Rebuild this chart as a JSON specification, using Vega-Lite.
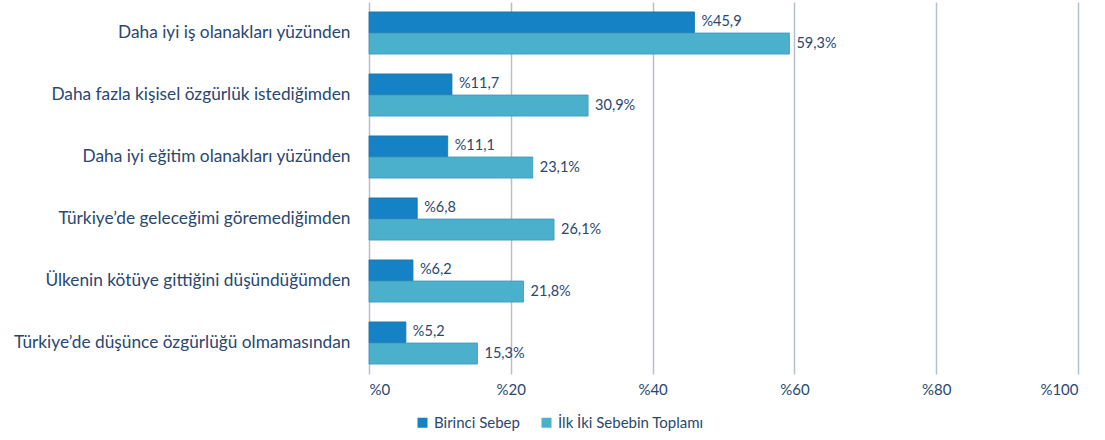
{
  "$schema": "https://vega.github.io/schema/vega-lite/v6.json",
  "width": 709,
  "height": 372,
  "autosize": {"type": "none"},
  "padding": {"left": 369, "top": 2, "right": 27, "bottom": 66},
  "background": "white",
  "data": {
    "values": [
      {"reason": "Daha iyi iş olanakları yüzünden", "series": "Birinci Sebep", "value": 45.9, "label": "%45,9"},
      {"reason": "Daha iyi iş olanakları yüzünden", "series": "İlk İki Sebebin Toplamı", "value": 59.3, "label": "59,3%"},
      {"reason": "Daha fazla kişisel özgürlük istediğimden", "series": "Birinci Sebep", "value": 11.7, "label": "%11,7"},
      {"reason": "Daha fazla kişisel özgürlük istediğimden", "series": "İlk İki Sebebin Toplamı", "value": 30.9, "label": "30,9%"},
      {"reason": "Daha iyi eğitim olanakları yüzünden", "series": "Birinci Sebep", "value": 11.1, "label": "%11,1"},
      {"reason": "Daha iyi eğitim olanakları yüzünden", "series": "İlk İki Sebebin Toplamı", "value": 23.1, "label": "23,1%"},
      {"reason": "Türkiye’de geleceğimi göremediğimden", "series": "Birinci Sebep", "value": 6.8, "label": "%6,8"},
      {"reason": "Türkiye’de geleceğimi göremediğimden", "series": "İlk İki Sebebin Toplamı", "value": 26.1, "label": "26,1%"},
      {"reason": "Ülkenin kötüye gittiğini düşündüğümden", "series": "Birinci Sebep", "value": 6.2, "label": "%6,2"},
      {"reason": "Ülkenin kötüye gittiğini düşündüğümden", "series": "İlk İki Sebebin Toplamı", "value": 21.8, "label": "21,8%"},
      {"reason": "Türkiye’de düşünce özgürlüğü olmamasından", "series": "Birinci Sebep", "value": 5.2, "label": "%5,2"},
      {"reason": "Türkiye’de düşünce özgürlüğü olmamasından", "series": "İlk İki Sebebin Toplamı", "value": 15.3, "label": "15,3%"}
    ]
  },
  "encoding": {
    "y": {
      "field": "reason", "type": "nominal", "sort": null, "title": null,
      "scale": {"paddingInner": 0.32, "paddingOuter": 0.16},
      "axis": {"domain": false, "ticks": false, "labelPadding": 19, "labelFontSize": 17.3, "labelColor": "#2a4770", "labelFont": "Lato", "labelLimit": 400}
    },
    "yOffset": {"field": "series", "type": "nominal", "sort": ["Birinci Sebep", "İlk İki Sebebin Toplamı"]},
    "x": {
      "field": "value", "type": "quantitative", "title": null,
      "scale": {"domain": [0, 100], "nice": false},
      "axis": {"values": [0, 20, 40, 60, 80, 100], "labelExpr": "'%' + datum.value", "domain": false, "ticks": false, "labelPadding": 8, "labelFontSize": 15, "labelColor": "#2a4770", "labelFont": "Lato", "gridColor": "#b7bfcb", "gridWidth": 1.5}
    }
  },
  "layer": [
    {
      "mark": {"type": "bar", "strokeWidth": 0.8},
      "encoding": {
        "color": {
          "field": "series", "type": "nominal", "title": null,
          "scale": {"domain": ["Birinci Sebep", "İlk İki Sebebin Toplamı"], "range": ["#1582c5", "#4bb0cc"]},
          "legend": {"orient": "none", "legendX": 46, "legendY": 413, "direction": "horizontal", "symbolType": "square", "symbolSize": 100, "symbolStrokeWidth": 0, "labelFontSize": 15, "labelFont": "Lato", "labelColor": "#2a4770", "columnPadding": 19, "labelOffset": 4}
        },
        "stroke": {
          "field": "series", "type": "nominal", "legend": null,
          "scale": {"domain": ["Birinci Sebep", "İlk İki Sebebin Toplamı"], "range": ["#1a6fa8", "#3a9ab5"]}
        }
      }
    },
    {
      "mark": {"type": "text", "align": "left", "dx": 7, "fontSize": 14.5, "font": "Lato", "color": "#2a4770"},
      "encoding": {"text": {"field": "label"}}
    }
  ],
  "config": {"view": {"stroke": null}}
}
